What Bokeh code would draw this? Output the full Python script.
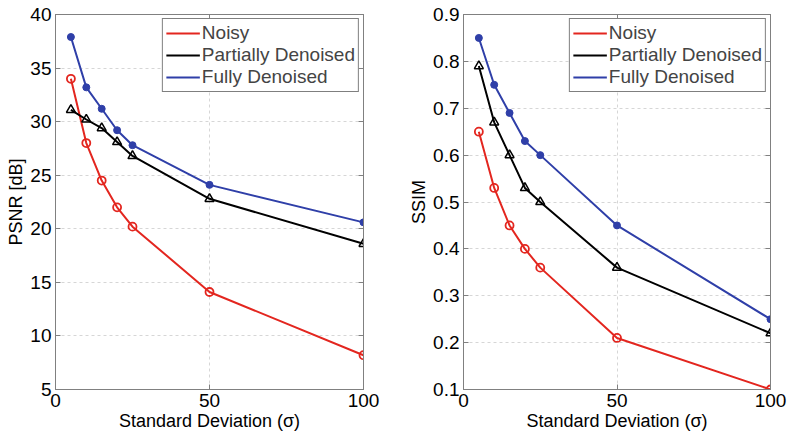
from bokeh.plotting import figure
from bokeh.layouts import row
from bokeh.models import LinearAxis, FixedTicker, Range1d, Legend, LegendItem
from bokeh.embed import file_html
from bokeh.resources import INLINE

sigma = [5, 10, 15, 20, 25, 50, 100]
psnr_noisy = [34.0, 28.0, 24.5, 22.0, 20.2, 14.1, 8.2]
psnr_partial = [31.1, 30.2, 29.4, 28.1, 26.8, 22.8, 18.6]
psnr_full = [37.9, 33.2, 31.2, 29.2, 27.8, 24.1, 20.6]
ssim_noisy = [0.65, 0.53, 0.45, 0.40, 0.36, 0.21, 0.10]
ssim_partial = [0.79, 0.67, 0.60, 0.53, 0.50, 0.36, 0.22]
ssim_full = [0.85, 0.75, 0.69, 0.63, 0.60, 0.45, 0.25]
x_ticks = [0, 50, 100]
psnr_ticks = [5, 10, 15, 20, 25, 30, 35, 40]
ssim_ticks = [0.1, 0.2, 0.3, 0.4, 0.5, 0.6, 0.7, 0.8, 0.9]
ssim_labels = {t: f"{t:.1f}" for t in ssim_ticks}
labels = ["Noisy", "Partially Denoised", "Fully Denoised"]

RED = "#e3261f"
BLACK = "#000000"
BLUE = "#2f3fa8"
FONT = "Liberation Sans"
AXIS_GRAY = "#808080"


def style_axis(ax, ticks, overrides=None, show_labels=True):
    ax.ticker = FixedTicker(ticks=ticks)
    if overrides:
        ax.major_label_overrides = overrides
    ax.axis_line_color = AXIS_GRAY
    ax.major_tick_line_color = AXIS_GRAY
    ax.major_tick_in = 5
    ax.major_tick_out = 0
    ax.minor_tick_line_color = None
    ax.major_label_text_font = FONT
    ax.major_label_text_color = "black"
    if show_labels:
        ax.major_label_text_font_size = "19px"
        ax.major_label_standoff = 4
    else:
        ax.major_label_text_font_size = "1px"
        ax.major_label_text_color = None
        ax.major_label_standoff = 0
    ax.axis_label_text_font = FONT
    ax.axis_label_text_font_size = "18px"
    ax.axis_label_text_color = "black"
    ax.axis_label_text_font_style = "normal"
    ax.axis_label_standoff = 1


def make_fig(width, ylo, yhi, yticks, ylabel, ys, yover, bl, br):
    p = figure(width=width, height=433, output_backend="svg", toolbar_location=None,
               x_range=Range1d(0, 100), y_range=Range1d(ylo, yhi),
               min_border_left=bl, min_border_right=br, min_border_top=14,
               min_border_bottom=42)
    p.outline_line_color = AXIS_GRAY
    style_axis(p.xaxis[0], x_ticks)
    style_axis(p.yaxis[0], yticks, yover)
    p.xaxis[0].axis_label = "Standard Deviation (σ)"
    p.yaxis[0].axis_label = ylabel
    top = LinearAxis()
    style_axis(top, x_ticks, show_labels=False)
    right = LinearAxis()
    style_axis(right, yticks, show_labels=False)
    p.add_layout(top, "above")
    p.add_layout(right, "right")
    for g in [p.xgrid[0], p.ygrid[0]]:
        g.grid_line_color = "#d6d6d6"
        g.grid_line_dash = "3 3"
        g.grid_line_width = 1
    p.xgrid[0].ticker = FixedTicker(ticks=x_ticks)
    p.ygrid[0].ticker = FixedTicker(ticks=yticks)

    yn, yp, yf = ys
    l1 = p.line(sigma, yn, line_color=RED, line_width=2)
    p.scatter(sigma, yn, marker="circle", size=8, line_color=RED, line_width=1.8,
              fill_color=None)
    l2 = p.line(sigma, yp, line_color=BLACK, line_width=2)
    p.scatter(sigma, yp, marker="triangle", size=9, line_color=BLACK, line_width=1.5,
              fill_color=None)
    l3 = p.line(sigma, yf, line_color=BLUE, line_width=2)
    p.scatter(sigma, yf, marker="circle", size=7, line_color=BLUE, fill_color=BLUE)

    lm1 = p.scatter([], [], marker="circle", size=6, line_color=RED, line_width=1.5,
                    fill_color=None)
    lm2 = p.scatter([], [], marker="triangle", size=7, line_color=BLACK, fill_color=BLACK)
    lm3 = p.scatter([], [], marker="circle", size=5, line_color=BLUE, fill_color=BLUE)
    items = [LegendItem(label=labels[0], renderers=[l1, lm1]),
             LegendItem(label=labels[1], renderers=[l2, lm2]),
             LegendItem(label=labels[2], renderers=[l3, lm3])]
    leg = Legend(items=items, location="top_right")
    leg.label_text_font = FONT
    leg.label_text_font_size = "19px"
    leg.border_line_color = "black"
    leg.border_line_width = 1
    leg.margin = 4
    leg.padding = 3
    leg.spacing = 0
    leg.glyph_width = 34
    leg.glyph_height = 22
    leg.label_height = 22
    leg.label_standoff = 2
    leg.background_fill_color = "white"
    leg.background_fill_alpha = 1
    p.add_layout(leg, "center")
    return p


p1 = make_fig(393, 5, 40, psnr_ticks, "PSNR [dB]",
              (psnr_noisy, psnr_partial, psnr_full), None, 55, 30)
p2 = make_fig(396, 0.1, 0.9, ssim_ticks, "SSIM",
              (ssim_noisy, ssim_partial, ssim_full), ssim_labels, 70, 19)

layout = row(p1, p2)
open("out.html", "w").write(file_html(layout, INLINE))
